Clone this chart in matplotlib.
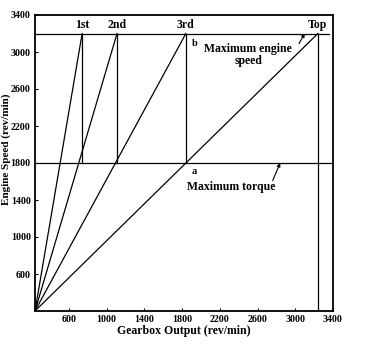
import matplotlib
matplotlib.use("Agg")
from matplotlib import pyplot as plt

# engine speed limits (rev/min)
max_torque_speed = 1800
max_engine_speed = 3200

# gearbox output at maximum engine speed for each gear
gears = ["1st", "2nd", "3rd", "Top"]
gear_output = [740, 1110, 1840, 3240]

x_ticks = [600, 1000, 1400, 1800, 2200, 2600, 3000, 3400]
y_ticks = [600, 1000, 1400, 1800, 2200, 2600, 3000, 3400]

x0, y0 = 240, 200  # axis origin, all gear lines start here

plt.rcParams['font.family'] = ['Liberation Serif', 'DejaVu Serif']
plt.rcParams['font.weight'] = 'bold'

fig = plt.figure(figsize=(3.72, 3.47), dpi=100)
ax = fig.add_axes([35/372, 1-311/347, 298/372, 296/347])
ax.set_xlim(x0, 3400)
ax.set_ylim(y0, 3400)

lc = "black"
lw = 0.9

# speed limit lines
ax.plot([x0, 3360], [max_engine_speed, max_engine_speed], color=lc, lw=lw)
ax.plot([x0, 3400], [max_torque_speed, max_torque_speed], color=lc, lw=lw)

# gear lines and the change-up verticals
for i, g in enumerate(gears):
    gx = gear_output[i]
    ax.plot([x0, gx], [y0, max_engine_speed], color=lc, lw=lw)
    if g == "Top":
        ax.plot([gx, gx], [y0, max_engine_speed], color=lc, lw=lw)
    else:
        ax.plot([gx, gx], [max_torque_speed, max_engine_speed], color=lc, lw=lw)
    ax.text(gx, 3290, g, ha="center", va="center", fontsize=8.5, fontweight="bold")

ax.text(gear_output[2] + 60, 3090, "b", ha="left", va="center", fontsize=7.5, fontweight="bold")
ax.text(gear_output[2] + 60, 1710, "a", ha="left", va="center", fontsize=7.5, fontweight="bold")

ax.text(2500, 2965, "Maximum engine\nspeed", ha="center", va="center",
        fontsize=8.5, fontweight="bold", linespacing=0.95)
ax.annotate("", xy=(3100, max_engine_speed), xytext=(3040, 3090),
            arrowprops=dict(arrowstyle="-|>", color=lc, lw=0.8,
                            mutation_scale=5, shrinkA=0, shrinkB=0))

ax.text(1850, 1545, "Maximum torque", ha="left", va="center",
        fontsize=8.5, fontweight="bold")
ax.annotate("", xy=(2840, max_torque_speed), xytext=(2760, 1610),
            arrowprops=dict(arrowstyle="-|>", color=lc, lw=0.8,
                            mutation_scale=5, shrinkA=0, shrinkB=0))

ax.set_xticks(x_ticks)
ax.set_yticks(y_ticks)
ax.tick_params(direction="in", length=2, width=0.8, labelsize=7.2, pad=3)
for lab in ax.get_xticklabels() + ax.get_yticklabels():
    lab.set_fontweight("bold")
for s in ax.spines.values():
    s.set_linewidth(1.3)

ax.set_xlabel("Gearbox Output (rev/min)", fontsize=8.5, fontweight="bold")
ax.set_ylabel("Engine Speed (rev/min)", fontsize=8, fontweight="bold")
ax.xaxis.set_label_coords(0.5, -0.047)
ax.yaxis.set_label_coords(-0.081, 0.545)

fig.savefig("out.png", dpi=100)
